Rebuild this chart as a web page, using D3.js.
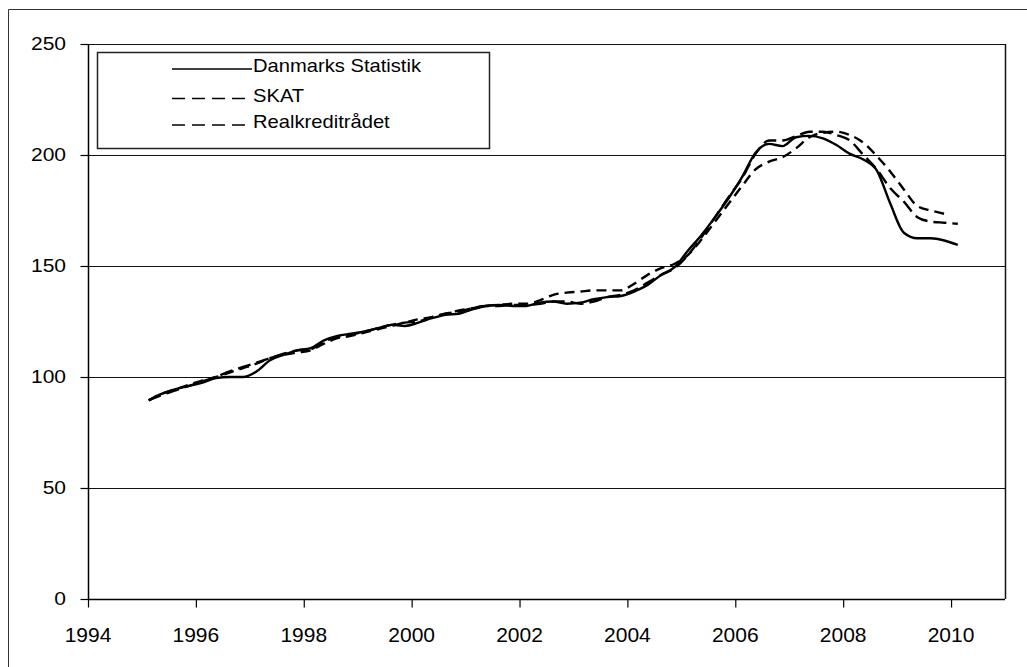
<!DOCTYPE html>
<html>
<head>
<meta charset="utf-8">
<script src="https://cdn.jsdelivr.net/npm/d3@7"></script>
<style>
  html, body { margin: 0; padding: 0; background: #fff; }
  svg { display: block; }
  text { font-family: "Liberation Sans", Arial, sans-serif; fill: #000; }
</style>
</head>
<body>
<svg id="chart" width="1027" height="667"></svg>
<script>
// ---- data (quarterly index, 1995Q1 onwards) ----
const startYear = 1995;
const seriesNames = ["Danmarks Statistik", "SKAT", "Realkreditrådet"];

const danmarksStatistik = [
  89.5, 92.5, 94.5, 96,
  97.5, 99.5, 100, 100,
  102.5, 107.5, 110, 112,
  113, 116.5, 118.5, 119.5,
  120.5, 122, 123.5, 123,
  124.5, 126.5, 128, 128.5,
  130.5, 132, 132.5, 132,
  132, 133.5, 134, 133,
  133.5, 135, 136, 136.5,
  138.5, 141.5, 146, 149.5,
  157, 164, 172, 180.5,
  190, 201, 205, 204,
  208, 208.6, 207.5, 204.5,
  200.5, 198, 193, 178,
  165, 162.5, 162.5, 161.5,
  159.5
];

const skat = [
  89.5, 92, 94, 96,
  98, 100, 102.5, 104.5,
  106.5, 108.5, 110.5, 112,
  112.5, 116, 118, 119,
  120.5, 122, 123.5, 124.5,
  125, 127, 128.5, 129.5,
  131, 132, 132, 132.5,
  132.5, 133, 134, 134,
  133, 134, 136, 137,
  139, 142.5, 146, 149,
  155, 163, 172, 181,
  189.5, 200.5, 206.5, 206.5,
  208.5, 210.5, 210.5, 209,
  206.5, 200, 193.5, 185,
  179, 172, 170, 169.5,
  169
];

const realkreditraadet = [
  89.5, 92.5, 94.5, 96.5,
  98.5, 100, 102, 104,
  106, 108.5, 110, 111,
  112, 115, 117.5, 118.5,
  120, 121.5, 123, 124.5,
  126, 127, 128.5, 130,
  131, 132, 132.5, 133,
  133, 134.5, 137, 138,
  138.5, 139, 139, 139,
  142, 146, 149, 151,
  155, 162, 170, 178,
  186, 193.5, 197, 199,
  203, 208, 210, 210.5,
  209, 205.5, 199.5, 192.5,
  184.5, 177, 175, 173.5
];

const yTicks = [0, 50, 100, 150, 200, 250];
const xTicks = [1994, 1996, 1998, 2000, 2002, 2004, 2006, 2008, 2010];

// ---- layout ----
const svg = d3.select("#chart");
const plot = { left: 88, top: 44, right: 1005, bottom: 599 };

const x = d3.scaleLinear().domain([1994, 2011]).range([plot.left, plot.right]);
const y = d3.scaleLinear().domain([0, 250]).range([plot.bottom, plot.top]);

const toPoints = vals => vals.map((v, i) => ({ t: startYear + i / 4 + 0.125, v }));

// outer frame (left & top edges visible)
svg.append("path")
  .attr("d", `M8.5,667 L8.5,9.5 L1027,9.5`)
  .attr("fill", "none").attr("stroke", "#333").attr("stroke-width", 1);

// gridlines
svg.append("g").selectAll("line")
  .data(yTicks.filter(d => d > 0))
  .join("line")
  .attr("x1", plot.left).attr("x2", plot.right)
  .attr("y1", d => Math.round(y(d)) + 0.5).attr("y2", d => Math.round(y(d)) + 0.5)
  .attr("stroke", "#111").attr("stroke-width", 1.2);

// right border of plot
svg.append("line")
  .attr("x1", plot.right + 0.5).attr("x2", plot.right + 0.5)
  .attr("y1", plot.top).attr("y2", plot.bottom)
  .attr("stroke", "#111").attr("stroke-width", 1.5);

// y axis
const yAxis = d3.axisLeft(y).tickValues(yTicks).tickSize(8).tickPadding(0).tickFormat(() => "");
const gy = svg.append("g").attr("transform", `translate(${plot.left + 0.5},0)`).call(yAxis);
gy.select(".domain").attr("stroke", "#000").attr("stroke-width", 1.5).attr("d", `M0,${plot.top}V${plot.bottom}`);
gy.selectAll(".tick line").attr("stroke", "#000").attr("stroke-width", 1.2);
svg.append("g").selectAll("text")
  .data(yTicks)
  .join("text")
  .attr("text-anchor", "end")
  .attr("font-size", 17.5)
  .attr("transform", d => `translate(66,${y(d) + 6}) scale(1.2,1)`)
  .text(d => d);

// x axis
const xAxis = d3.axisBottom(x).tickValues(xTicks).tickSize(8).tickFormat(() => "");
const gx = svg.append("g").attr("transform", `translate(0,${plot.bottom + 0.5})`).call(xAxis);
gx.select(".domain").attr("stroke", "#000").attr("stroke-width", 1.5).attr("d", `M${plot.left},0H${plot.right}`);
gx.selectAll(".tick line").attr("stroke", "#000").attr("stroke-width", 1.2);
svg.append("g").selectAll("text")
  .data(xTicks)
  .join("text")
  .attr("text-anchor", "middle")
  .attr("font-size", 21)
  .attr("x", d => x(d))
  .attr("y", 642)
  .text(d => d);

// lines
const line = d3.line().x(d => x(d.t)).y(d => y(d.v)).curve(d3.curveMonotoneX);
const series = [
  { name: seriesNames[0], pts: toPoints(danmarksStatistik), dash: null },
  { name: seriesNames[1], pts: toPoints(skat), dash: "13,6" },
  { name: seriesNames[2], pts: toPoints(realkreditraadet), dash: "10,6" }
];
svg.append("g").selectAll("path")
  .data(series)
  .join("path")
  .attr("d", d => line(d.pts))
  .attr("fill", "none")
  .attr("stroke", "#000")
  .attr("stroke-width", 2.4)
  .attr("stroke-dasharray", d => d.dash);

// legend
const lg = svg.append("g");
lg.append("rect")
  .attr("x", 97.5).attr("y", 52.5).attr("width", 392).attr("height", 96)
  .attr("fill", "#fff").attr("stroke", "#222").attr("stroke-width", 1.5);
const legendRows = [
  { name: seriesNames[0], base: 72, dash: null },
  { name: seriesNames[1], base: 101.5, dash: "13,7" },
  { name: seriesNames[2], base: 128, dash: "13,7" }
];
legendRows.forEach(r => {
  lg.append("line")
    .attr("x1", 172).attr("x2", 252)
    .attr("y1", r.base - 3).attr("y2", r.base - 3)
    .attr("stroke", "#000").attr("stroke-width", 1.4)
    .attr("stroke-dasharray", r.dash);
  lg.append("text")
    .attr("font-size", 18)
    .attr("transform", `translate(253,${r.base}) scale(1.12,1)`)
    .text(r.name);
});
</script>
</body>
</html>
